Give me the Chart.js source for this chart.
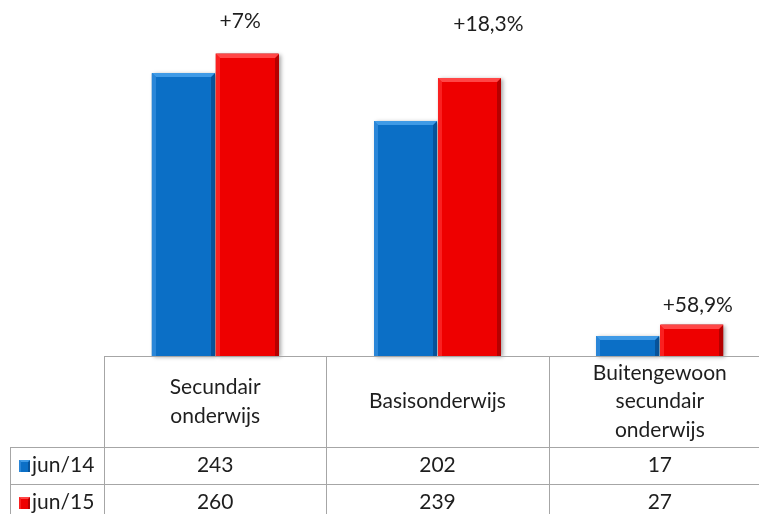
<!DOCTYPE html>
<html>
<head>
<meta charset="utf-8">
<script src="https://cdn.jsdelivr.net/npm/chart.js@4.4.0/dist/chart.umd.min.js"></script>
<style>
  html, body { margin: 0; padding: 0; overflow: hidden; background: #fff; }
</style>
</head>
<body>
<canvas id="chart" width="772" height="514"></canvas>
<script>
// data
const categories = [["Secundair", "onderwijs"], ["Basisonderwijs"], ["Buitengewoon", "secundair", "onderwijs"]];
const seriesNames = ["jun/14", "jun/15"];
const values2014 = [243, 202, 17];
const values2015 = [260, 239, 27];
const growthLabels = ["+7%", "+18,3%", "+58,9%"];

const FONT = "21px Lato, 'Open Sans', sans-serif";
const TEXT = "#1e1e1e";
const GRID = "#a6a6a6";

const colors = [
  { body: "#0b6fc6", top: "#3f9ae6", left: "#2a86d8", right: "#07539a" },
  { body: "#ee0000", top: "#ff4646", left: "#fa2020", right: "#b50000" }
];

// hand placed labels in the original, offsets from the red bar top
const labelOffsets = [[-7, -32], [19, -54], [6, -19]];

const bevel = (ctx, x0, y0, x1, y1, c, b) => {
  ctx.fillStyle = c.body;
  ctx.fillRect(x0, y0, x1 - x0, y1 - y0);
  ctx.fillStyle = c.left;
  ctx.beginPath();
  ctx.moveTo(x0, y0); ctx.lineTo(x0 + b, y0 + b); ctx.lineTo(x0 + b, y1); ctx.lineTo(x0, y1);
  ctx.fill();
  ctx.fillStyle = c.right;
  ctx.beginPath();
  ctx.moveTo(x1, y0); ctx.lineTo(x1 - b, y0 + b); ctx.lineTo(x1 - b, y1); ctx.lineTo(x1, y1);
  ctx.fill();
  ctx.fillStyle = c.top;
  ctx.beginPath();
  ctx.moveTo(x0, y0); ctx.lineTo(x1, y0); ctx.lineTo(x1 - b, y0 + b); ctx.lineTo(x0 + b, y0 + b);
  ctx.fill();
};

const bevelBars = {
  id: "bevelBars",
  afterDatasetsDraw(chart) {
    const ctx = chart.ctx;
    ctx.save();
    chart.data.datasets.forEach((ds, di) => {
      chart.getDatasetMeta(di).data.forEach(bar => {
        const x0 = Math.round(bar.x - bar.width / 2), x1 = Math.round(bar.x + bar.width / 2);
        const y0 = Math.round(bar.y), y1 = Math.round(bar.base);
        ctx.save();
        ctx.shadowColor = "rgba(0,0,0,0.35)";
        ctx.shadowBlur = 4;
        ctx.shadowOffsetX = 2;
        ctx.shadowOffsetY = 1;
        ctx.fillStyle = colors[di].body;
        ctx.fillRect(x0, y0, x1 - x0, y1 - y0);
        ctx.restore();
        bevel(ctx, x0, y0, x1, y1, colors[di], 4);
      });
    });
    // growth labels above the jun/15 bars
    ctx.font = FONT;
    ctx.fillStyle = TEXT;
    ctx.textAlign = "center";
    ctx.textBaseline = "middle";
    chart.getDatasetMeta(1).data.forEach((bar, i) => {
      ctx.fillText(growthLabels[i], bar.x + labelOffsets[i][0], bar.y + labelOffsets[i][1]);
    });
    ctx.restore();
  }
};

const dataTable = {
  id: "dataTable",
  afterDraw(chart) {
    const ctx = chart.ctx;
    const area = chart.chartArea;
    const n = categories.length;
    const w = (area.right - area.left) / n;
    const top = area.bottom;
    const headerBottom = top + 91;
    const rowH = 37;
    const legendLeft = 10;
    const right = chart.width;
    const bottom = chart.height;

    ctx.save();
    ctx.strokeStyle = GRID;
    ctx.lineWidth = 1;
    ctx.beginPath();
    // horizontal lines
    ctx.moveTo(area.left, top + 0.5); ctx.lineTo(right, top + 0.5);
    ctx.moveTo(legendLeft, headerBottom + 0.5); ctx.lineTo(right, headerBottom + 0.5);
    ctx.moveTo(legendLeft, headerBottom + rowH + 0.5); ctx.lineTo(right, headerBottom + rowH + 0.5);
    // vertical lines
    ctx.moveTo(legendLeft + 0.5, headerBottom); ctx.lineTo(legendLeft + 0.5, bottom);
    for (let i = 0; i < n; i++) {
      const x = Math.round(area.left + i * w) + 0.5;
      ctx.moveTo(x, top); ctx.lineTo(x, bottom);
    }
    ctx.stroke();

    ctx.font = FONT;
    ctx.fillStyle = TEXT;
    ctx.textAlign = "center";
    ctx.textBaseline = "middle";
    const lineH = 28.5;
    categories.forEach((lines, i) => {
      const cx = chart.scales.x.getPixelForValue(i);
      const cy = (top + headerBottom) / 2;
      lines.forEach((t, j) => {
        ctx.fillText(t, cx, cy + (j - (lines.length - 1) / 2) * lineH);
      });
    });

    const rows = [values2014, values2015];
    rows.forEach((vals, r) => {
      const cy = headerBottom + rowH * r + rowH / 2;
      // legend key
      bevel(ctx, legendLeft + 9, Math.round(cy - 6), legendLeft + 20, Math.round(cy + 6), colors[r], 2);
      ctx.fillStyle = TEXT;
      ctx.textAlign = "left";
      ctx.fillText(seriesNames[r], legendLeft + 22, cy);
      ctx.textAlign = "center";
      vals.forEach((v, i) => {
        ctx.fillText(String(v), chart.scales.x.getPixelForValue(i), cy);
      });
    });
    ctx.restore();
  }
};

new Chart(document.getElementById("chart"), {
  type: "bar",
  data: {
    labels: categories.map(c => c.join(" ")),
    datasets: [
      { label: seriesNames[0], data: values2014, backgroundColor: colors[0].body },
      { label: seriesNames[1], data: values2015, backgroundColor: colors[1].body }
    ]
  },
  options: {
    responsive: false,
    animation: false,
    devicePixelRatio: 1,
    layout: { padding: { left: 104, right: 1, top: 7, bottom: 158 } },
    datasets: { bar: { categoryPercentage: 0.575, barPercentage: 0.985, borderWidth: 0 } },
    plugins: { legend: { display: false }, tooltip: { enabled: false } },
    scales: {
      x: { display: false },
      y: { display: false, min: 0, max: 300 }
    }
  },
  plugins: [bevelBars, dataTable]
});
</script>
</body>
</html>
